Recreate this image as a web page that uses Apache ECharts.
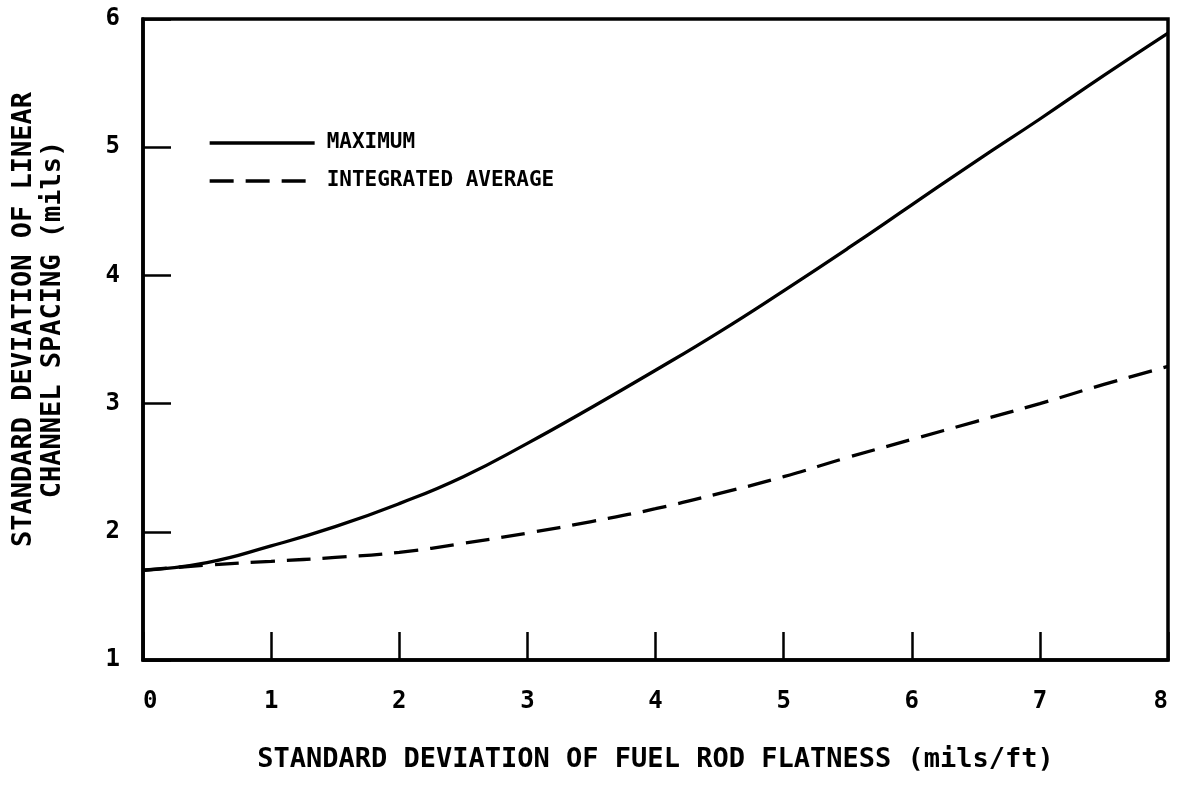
<!DOCTYPE html>
<html>
<head>
<meta charset="utf-8">
<script src="https://cdn.jsdelivr.net/npm/echarts@6/dist/echarts.min.js"></script>
<style>
  html, body { margin: 0; padding: 0; background: #fff; }
  #chart { width: 1179px; height: 785px; }
</style>
</head>
<body>
<div id="chart"></div>
<script>
// values, every 0.5 mils/ft
var flatness = [0, 0.5, 1, 1.5, 2, 2.5, 3, 3.5, 4, 4.5, 5, 5.5, 6, 6.5, 7, 7.5, 8];
var maximum  = [1.70, 1.76, 1.89, 2.04, 2.22, 2.43, 2.69, 2.97, 3.26, 3.56, 3.88, 4.21, 4.55, 4.89, 5.22, 5.56, 5.89];
var average  = [1.70, 1.74, 1.77, 1.80, 1.84, 1.91, 1.99, 2.08, 2.18, 2.30, 2.43, 2.58, 2.72, 2.86, 3.00, 3.15, 3.29];
var seriesNames = ['MAXIMUM', 'INTEGRATED AVERAGE'];

function pairs(ys) {
    return flatness.map(function (x, i) { return [x, ys[i]]; });
}

var font = 'DejaVu Sans Mono';
var chart = echarts.init(document.getElementById('chart'));
var option = {
    backgroundColor: '#fff',
    animation: false,
    grid: {
        left: 143,
        right: 11,
        top: 19,
        bottom: 125,
        show: true,
        borderColor: '#000',
        borderWidth: 3.5
    },
    legend: {
        orient: 'vertical',
        left: 208,
        top: 131,
        padding: 0,
        itemWidth: 105,
        itemHeight: 24,
        itemGap: 14,
        data: seriesNames,
        itemStyle: { opacity: 0 },
        lineStyle: { width: 3.3 },
        textStyle: {
            fontFamily: font,
            fontWeight: 'bold',
            fontSize: 21,
            lineHeight: 24,
            color: '#000',
            padding: [0, 0, 0, 7]
        }
    },
    xAxis: {
        type: 'value',
        min: 0,
        max: 8,
        interval: 1,
        name: 'STANDARD DEVIATION OF FUEL ROD FLATNESS (mils/ft)',
        nameLocation: 'middle',
        nameGap: 86,
        nameTextStyle: { fontFamily: font, fontWeight: 'bold', fontSize: 27, color: '#000' },
        axisLine: { lineStyle: { color: '#000', width: 3.5 } },
        axisTick: { inside: true, length: 28, lineStyle: { color: '#000', width: 2.5 } },
        axisLabel: {
            margin: 30,
            fontFamily: font,
            fontWeight: 'bold',
            fontSize: 24,
            color: '#000',
            alignMinLabel: 'left',
            alignMaxLabel: 'right'
        },
        splitLine: { show: false }
    },
    yAxis: {
        type: 'value',
        min: 1,
        max: 6,
        interval: 1,
        name: 'STANDARD DEVIATION OF LINEAR\nCHANNEL SPACING (mils)',
        nameLocation: 'middle',
        nameGap: 76,
        nameTextStyle: {
            fontFamily: font, fontWeight: 'bold', fontSize: 27, lineHeight: 29,
            color: '#000', padding: [0, 0, 0, 40]
        },
        axisLine: { lineStyle: { color: '#000', width: 3.5 } },
        axisTick: { inside: true, length: 28, lineStyle: { color: '#000', width: 2.5 } },
        axisLabel: { margin: 23, fontFamily: font, fontWeight: 'bold', fontSize: 24, color: '#000' },
        splitLine: { show: false }
    },
    series: [
        {
            name: seriesNames[0],
            type: 'line',
            smooth: true,
            symbol: 'none',
            data: pairs(maximum),
            lineStyle: { color: '#000', width: 3.3, type: 'solid' },
            itemStyle: { color: '#000' }
        },
        {
            name: seriesNames[1],
            type: 'line',
            smooth: true,
            symbol: 'none',
            data: pairs(average),
            lineStyle: { color: '#000', width: 3.3, type: [24, 12] },
            itemStyle: { color: '#000' }
        }
    ]
};
chart.setOption(option);
</script>
</body>
</html>
